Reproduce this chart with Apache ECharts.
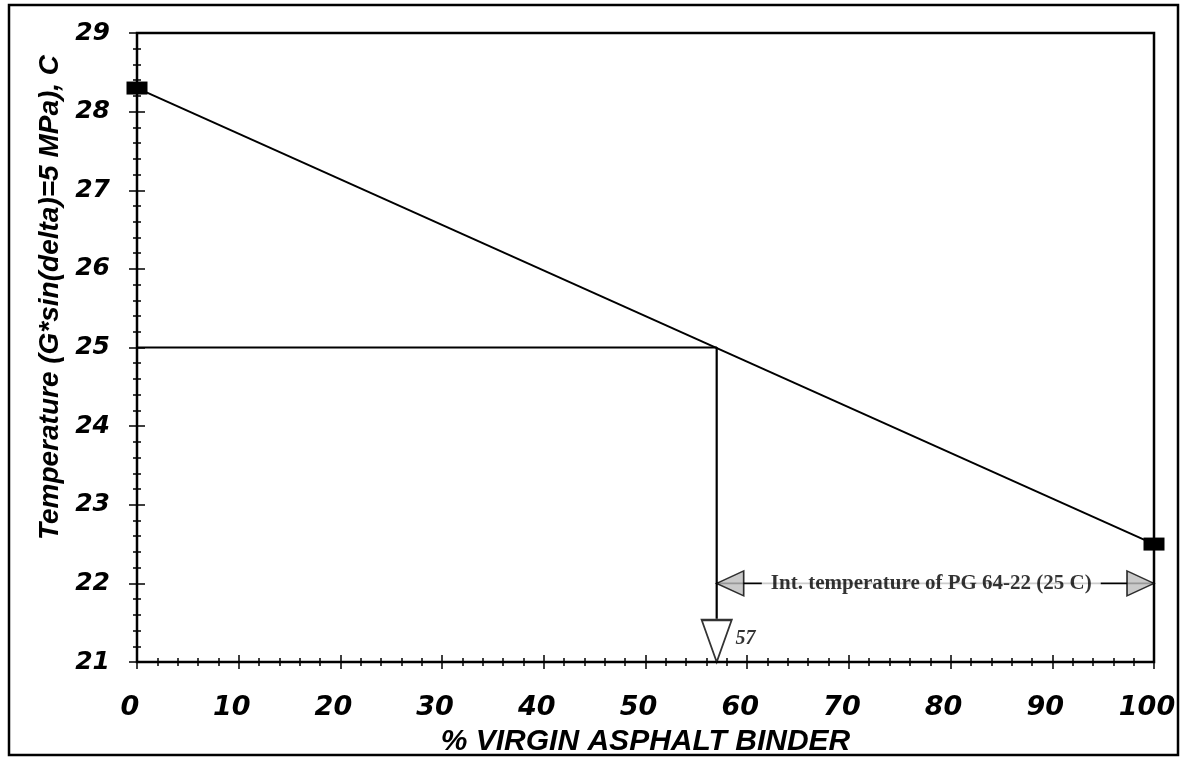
<!DOCTYPE html>
<html><head><meta charset="utf-8">
<script src="https://cdn.jsdelivr.net/npm/echarts@6/dist/echarts.min.js"></script>
<style>html,body{margin:0;padding:0;background:#fff}#c{width:1185px;height:761px}</style>
</head><body><div id="c"></div>
<script>
// ---- data ----
const xTickLabels = [0, 10, 20, 30, 40, 50, 60, 70, 80, 90, 100];
const yTickLabels = [21, 22, 23, 24, 25, 26, 27, 28, 29];
const virginPctPoints = [0, 100];
const tempPoints = [28.3, 22.5];
const targetTemp = 25;
const virginPctAtTarget = 57;
const arrowRowTemp = 22;
const intTempText = 'Int. temperature of PG 64-22 (25 C)';
const intTempTextPos = [78.1, 22];
const xTitle = '% VIRGIN ASPHALT BINDER';
const yTitle = 'Temperature (G*sin(delta)=5 MPa), C';

const lineData = virginPctPoints.map((x, i) => [x, tempPoints[i]]);
const xMin = xTickLabels[0], xMax = xTickLabels[xTickLabels.length - 1];
const yMin = yTickLabels[0], yMax = yTickLabels[yTickLabels.length - 1];

const chart = echarts.init(document.getElementById('c'));
const axFont = { fontFamily: 'DejaVu Sans', fontWeight: 'bold', fontStyle: 'italic', color: '#000' };
const titleFont = { fontFamily: 'Liberation Sans', fontWeight: 'bold', fontStyle: 'italic', color: '#000' };
const blk = { color: '#000' };
const arrowFill = {
  color: '#bdbdbd', borderColor: '#000', borderWidth: 1.6,
  decal: { symbol: 'rect', symbolSize: 1, dashArrayX: [1, 2], dashArrayY: [1, 2], color: '#444', backgroundColor: '#c8c8c8' }
};

function xAx(main) {
  return {
    type: 'value', min: xMin, max: xMax, interval: 10, position: 'bottom',
    axisLine: { show: main, lineStyle: { color: '#000', width: 2 } },
    axisTick: { show: true, inside: !main, length: 7, lineStyle: { color: '#000', width: 1.5 } },
    minorTick: { show: true, splitNumber: 5, length: 4, lineStyle: { color: '#000', width: 1.5 } },
    splitLine: { show: false },
    axisLabel: main ? Object.assign({ fontSize: 27, margin: 32, padding: [0, 14, 0, 0] }, axFont) : { show: false },
    name: main ? xTitle : '', nameLocation: 'middle', nameGap: 65,
    nameTextStyle: Object.assign({ fontSize: 30 }, titleFont)
  };
}
function yAx(main) {
  return {
    type: 'value', min: yMin, max: yMax, interval: 1, position: 'left',
    axisLine: { show: main, lineStyle: { color: '#000', width: 2 } },
    axisTick: { show: true, inside: !main, length: 8, lineStyle: { color: '#000', width: 1.5 } },
    minorTick: { show: true, splitNumber: 5, length: 4, lineStyle: { color: '#000', width: 1.5 } },
    splitLine: { show: false },
    axisLabel: main ? Object.assign({ fontSize: 25, margin: 27 }, axFont) : { show: false },
    name: main ? yTitle : '', nameLocation: 'middle', nameGap: 67,
    nameTextStyle: Object.assign({ fontSize: 28, padding: [0, 0, 0, 100] }, titleFont)
  };
}

const option = {
  animation: false,
  backgroundColor: '#fff',
  grid: {
    left: 137, right: 31, top: 33, bottom: 99, outerBoundsMode: 'none', containLabel: false,
    show: true, borderColor: '#000', borderWidth: 2.5
  },
  graphic: [{
    type: 'rect', z: -1, shape: { x: 9, y: 5, width: 1169, height: 750 },
    style: { fill: 'none', stroke: '#000', lineWidth: 2.5 }
  }],
  xAxis: [xAx(true), xAx(false)],
  yAxis: [yAx(true), yAx(false)],
  series: [
    {
      type: 'line', data: [[xMin, targetTemp], [virginPctAtTarget, targetTemp], [virginPctAtTarget, yMin + 0.55]],
      symbol: 'none', lineStyle: { color: '#000', width: 2.2 }, z: 2
    },
    {
      type: 'line', data: [[virginPctAtTarget, arrowRowTemp], [xMax, arrowRowTemp]],
      symbol: 'none', lineStyle: { color: '#000', width: 1.8 }, z: 2
    },
    {
      type: 'scatter', data: [intTempTextPos], symbolSize: 0, z: 4,
      label: {
        show: true, position: 'inside', formatter: intTempText,
        fontFamily: 'Liberation Serif', fontWeight: 'bold', fontSize: 21, color: '#000',
        backgroundColor: '#fff', padding: [2, 9]
      }
    },
    {
      type: 'line', data: lineData, symbol: 'rect', symbolSize: [21, 13],
      itemStyle: blk, lineStyle: { color: '#000', width: 2 }, z: 5
    },
    {
      type: 'scatter', data: [[virginPctAtTarget, yMin]], symbol: 'triangle', symbolSize: [30, 42],
      symbolRotate: 180, symbolOffset: [0, -21], z: 6,
      itemStyle: { color: '#fff', borderColor: '#000', borderWidth: 2 },
      label: {
        show: true, formatter: String(virginPctAtTarget), position: 'right', offset: [-2, -2],
        fontFamily: 'Liberation Serif', fontWeight: 'bold', fontStyle: 'italic', fontSize: 20, color: '#000'
      }
    },
    {
      type: 'scatter', data: [[virginPctAtTarget, arrowRowTemp]], symbol: 'triangle', symbolSize: [25, 27],
      symbolRotate: 90, symbolOffset: [13.5, 0], z: 6, itemStyle: arrowFill
    },
    {
      type: 'scatter', data: [[xMax, arrowRowTemp]], symbol: 'triangle', symbolSize: [25, 27],
      symbolRotate: -90, symbolOffset: [-13.5, 0], z: 6, itemStyle: arrowFill
    }
  ]
};
chart.setOption(option);
</script>
</body></html>
